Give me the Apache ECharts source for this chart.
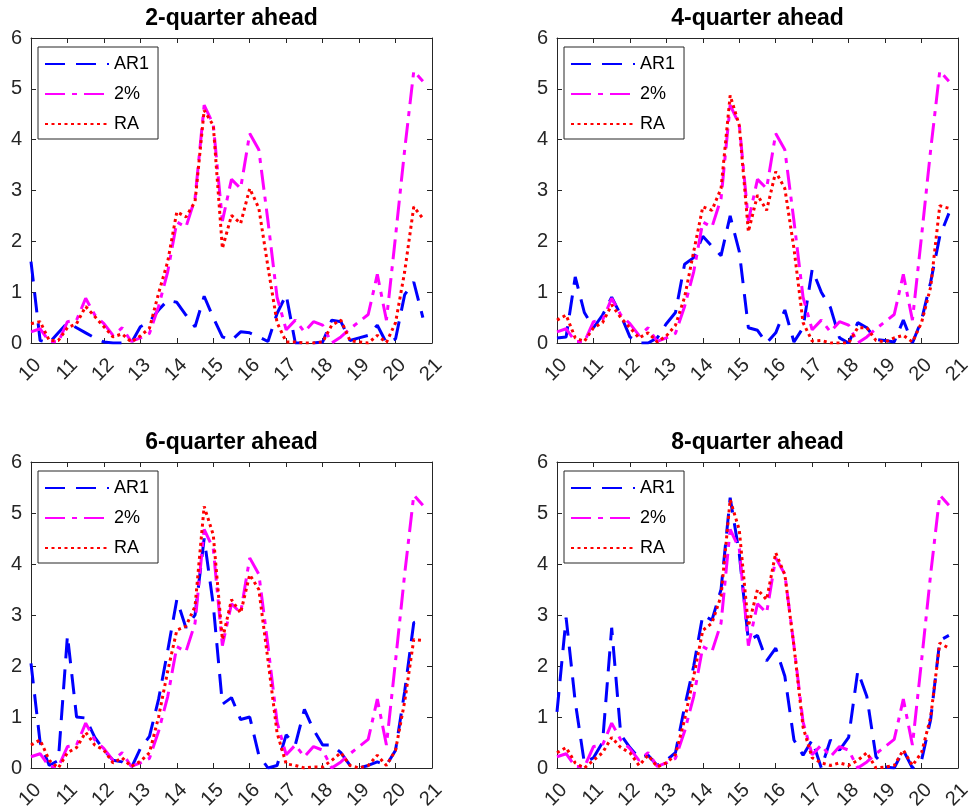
<!DOCTYPE html>
<html>
<head>
<meta charset="utf-8">
<title>Forecast panels</title>
<script src="https://cdn.jsdelivr.net/npm/echarts@6/dist/echarts.min.js"></script>
<style>
  html, body { margin: 0; padding: 0; background: #fff; }
  #chart { width: 969px; height: 809px; }
</style>
</head>
<body>
<div id="chart"></div>
<script>
// quarterly dates, 2010Q1 .. 2020Q4 shown as 10 .. 20.75
const quarters = [10, 10.25, 10.5, 10.75, 11, 11.25, 11.5, 11.75, 12, 12.25, 12.5, 12.75,
  13, 13.25, 13.5, 13.75, 14, 14.25, 14.5, 14.75, 15, 15.25, 15.5, 15.75,
  16, 16.25, 16.5, 16.75, 17, 17.25, 17.5, 17.75, 18, 18.25, 18.5, 18.75,
  19, 19.25, 19.5, 19.75, 20, 20.25, 20.5, 20.75];

const xTicks = [10, 11, 12, 13, 14, 15, 16, 17, 18, 19, 20, 21];
const yTicks = [0, 1, 2, 3, 4, 5, 6];
const seriesNames = ['AR1', '2%', 'RA'];
const titles = ['2-quarter ahead', '4-quarter ahead', '6-quarter ahead', '8-quarter ahead'];

// the 2% line is the same in every panel
const twoPct = [0.22, 0.28, 0.03, 0.02, 0.42, 0.45, 0.88, 0.55, 0.38, 0.15, 0.3, 0.03,
  0.1, 0.19, 0.72, 1.4, 2.38, 2.28, 2.84, 4.68, 4.3, 2.4, 3.22, 3.04,
  4.12, 3.8, 2.4, 0.9, 0.26, 0.45, 0.22, 0.42, 0.35, 0.0, 0.12, 0.28,
  0.42, 0.56, 1.35, 0.45, 2.1, 3.8, 5.35, 5.15];

const ar1H2 = [1.6, 0.05, 0.0, 0.2, 0.4, 0.3, 0.2, 0.1, 0.02, 0.0, 0.0, 0.0,
  0.32, 0.42, 0.65, 0.84, 0.8, 0.55, 0.32, 0.92, 0.5, 0.12, 0.05, 0.22,
  0.2, 0.12, 0.03, 0.58, 0.95, 0.0, 0.0, 0.0, 0.02, 0.45, 0.42, 0.05,
  0.1, 0.15, 0.35, 0.0, 0.08, 0.95, 1.2, 0.5];
const raH2 = [0.38, 0.42, 0.05, 0.05, 0.3, 0.38, 0.72, 0.52, 0.32, 0.12, 0.18, 0.02,
  0.14, 0.29, 0.98, 1.6, 2.58, 2.48, 2.78, 4.58, 4.28, 1.86, 2.51, 2.35,
  3.04, 2.65, 1.5, 0.4, 0.02, 0.02, 0.0, 0.0, 0.02, 0.35, 0.45, 0.05,
  0.02, 0.0, 0.15, 0.01, 0.4, 1.4, 2.68, 2.45];

const ar1H4 = [0.1, 0.12, 1.3, 0.6, 0.3, 0.55, 0.9, 0.55, 0.12, 0.0, 0.0, 0.1,
  0.38, 0.6, 1.55, 1.68, 2.1, 1.9, 1.72, 2.5, 1.8, 0.3, 0.25, 0.0,
  0.2, 0.65, 0.02, 0.3, 1.45, 1.0, 0.7, 0.1, 0.0, 0.4, 0.3, 0.07,
  0.05, 0.02, 0.45, 0.0, 0.45, 1.2, 2.1, 2.55];
const raH4 = [0.45, 0.55, 0.1, 0.03, 0.3, 0.4, 0.75, 0.5, 0.3, 0.1, 0.2, 0.02,
  0.14, 0.35, 0.9, 1.8, 2.68, 2.61, 3.04, 4.87, 4.28, 2.19, 2.91, 2.61,
  3.37, 3.04, 1.86, 0.4, 0.04, 0.05, 0.0, 0.0, 0.0, 0.3, 0.3, 0.05,
  0.02, 0.1, 0.15, 0.02, 0.4, 1.1, 2.7, 2.65];

const ar1H6 = [2.05, 0.5, 0.05, 0.15, 2.6, 1.0, 0.98, 0.6, 0.35, 0.15, 0.12, 0.0,
  0.38, 0.62, 1.35, 2.3, 3.3, 2.75, 3.0, 4.5, 3.2, 1.25, 1.38, 0.95,
  1.0, 0.25, 0.0, 0.05, 0.65, 0.45, 1.15, 0.75, 0.45, 0.45, 0.3, 0.05,
  0.0, 0.05, 0.12, 0.05, 0.35, 1.5, 2.85, 2.9];
const raH6 = [0.45, 0.55, 0.15, 0.0, 0.3, 0.4, 0.7, 0.45, 0.35, 0.1, 0.2, 0.03,
  0.13, 0.3, 1.0, 1.9, 2.7, 2.78, 3.17, 5.13, 4.57, 2.52, 3.3, 3.04,
  3.79, 3.5, 2.12, 0.69, 0.08, 0.05, 0.0, 0.02, 0.02, 0.15, 0.3, 0.05,
  0.0, 0.05, 0.25, 0.05, 0.35, 1.3, 2.52, 2.5];

const ar1H8 = [1.1, 2.95, 1.3, 0.1, 0.2, 0.5, 2.75, 0.65, 0.4, 0.2, 0.25, 0.05,
  0.15, 0.3, 1.2, 2.0, 3.0, 2.9, 3.5, 5.3, 4.2, 2.5, 2.6, 2.1,
  2.35, 1.8, 0.55, 0.25, 0.55, 0.0, 0.55, 0.35, 0.6, 1.9, 1.4, 0.22,
  0.02, 0.0, 0.35, 0.0, 0.15, 0.95, 2.5, 2.6];
const raH8 = [0.3, 0.4, 0.1, 0.0, 0.15, 0.3, 0.6, 0.4, 0.3, 0.05, 0.25, 0.02,
  0.1, 0.26, 0.95, 1.8, 2.7, 2.84, 3.37, 5.26, 4.67, 2.78, 3.5, 3.3,
  4.22, 3.79, 2.39, 0.8, 0.2, 0.1, 0.05, 0.1, 0.05, 0.15, 0.3, 0.0,
  0.02, 0.05, 0.35, 0.05, 0.3, 1.0, 2.45, 2.35];

const panelData = [
  [ar1H2, twoPct, raH2],
  [ar1H4, twoPct, raH4],
  [ar1H6, twoPct, raH6],
  [ar1H8, twoPct, raH8]
];

// layout of the four axes boxes (pixels)
const boxes = [
  { left: 31, top: 38, width: 401, height: 305 },
  { left: 557, top: 38, width: 401, height: 305 },
  { left: 31, top: 462, width: 401, height: 306 },
  { left: 557, top: 462, width: 401, height: 306 }
];

const FONT = '"Liberation Sans", Arial, Helvetica, sans-serif';
const AXIS_COLOR = '#262626';

const lineStyles = [
  { color: '#0000ff', width: 3, type: [20, 11] },
  { color: '#ff00ff', width: 3, type: [20, 7, 5, 7] },
  { color: '#ff0000', width: 3, type: [3, 3.5] }
];

function pairs(vals) {
  return quarters.map(function (q, i) { return [q, vals[i]]; });
}

var chartDom = document.getElementById('chart');
var myChart = echarts.init(chartDom, null, { renderer: 'canvas' });

var grid = [], xAxis = [], yAxis = [], series = [], title = [], legend = [];

boxes.forEach(function (b, k) {
  grid.push({ left: b.left, top: b.top, width: b.width, height: b.height,
    show: false, containLabel: false, outerBoundsMode: 'none' });

  title.push({
    text: titles[k],
    left: b.left + b.width / 2,
    top: b.top - 31,
    textAlign: 'center',
    padding: 0,
    textStyle: { fontFamily: FONT, fontSize: 23, fontWeight: 'bold', color: '#000' }
  });

  var tickCommon = { show: true, inside: true, length: 5, lineStyle: { color: AXIS_COLOR, width: 1 } };
  var lineCommon = { show: true, onZero: false, lineStyle: { color: AXIS_COLOR, width: 1 } };

  // bottom + top x axes
  xAxis.push({
    gridIndex: k, type: 'value', position: 'bottom',
    min: xTicks[0], max: xTicks[xTicks.length - 1], interval: 1,
    axisLine: lineCommon, axisTick: tickCommon, splitLine: { show: false },
    axisLabel: {
      rotate: 45, margin: 12, align: 'right', verticalAlign: 'top',
      fontFamily: FONT, fontSize: 20, color: AXIS_COLOR,
      showMinLabel: true, showMaxLabel: true
    }
  });
  xAxis.push({
    gridIndex: k, type: 'value', position: 'top',
    min: xTicks[0], max: xTicks[xTicks.length - 1], interval: 1,
    axisLine: lineCommon, axisTick: tickCommon, splitLine: { show: false },
    axisLabel: { show: false }
  });

  // left + right y axes
  yAxis.push({
    gridIndex: k, type: 'value', position: 'left',
    min: yTicks[0], max: yTicks[yTicks.length - 1], interval: 1,
    axisLine: lineCommon, axisTick: tickCommon, splitLine: { show: false },
    axisLabel: { margin: 9, fontFamily: FONT, fontSize: 20, color: AXIS_COLOR }
  });
  yAxis.push({
    gridIndex: k, type: 'value', position: 'right',
    min: yTicks[0], max: yTicks[yTicks.length - 1], interval: 1,
    axisLine: lineCommon, axisTick: tickCommon, splitLine: { show: false },
    axisLabel: { show: false }
  });

  panelData[k].forEach(function (vals, s) {
    series.push({
      name: seriesNames[s],
      type: 'line',
      xAxisIndex: 2 * k,
      yAxisIndex: 2 * k,
      data: pairs(vals),
      symbol: 'none',
      showSymbol: false,
      animation: false,
      silent: true,
      lineStyle: lineStyles[s],
      itemStyle: { color: lineStyles[s].color },
      z: 2 + s
    });
  });

  legend.push({
    data: seriesNames,
    orient: 'vertical',
    left: b.left + 7,
    top: b.top + 9,
    padding: [8, 9, 6, 6],
    itemWidth: 64,
    itemHeight: 14,
    itemGap: 12,
    selectedMode: false,
    backgroundColor: '#fff',
    borderColor: AXIS_COLOR,
    borderWidth: 1,
    borderRadius: 0,
    itemStyle: { color: 'rgba(0,0,0,0)', borderWidth: 0 },
    textStyle: { fontFamily: FONT, fontSize: 18, color: '#000' }
  });
});

var option = {
  backgroundColor: '#fff',
  animation: false,
  title: title,
  legend: legend,
  grid: grid,
  xAxis: xAxis,
  yAxis: yAxis,
  series: series
};

option && myChart.setOption(option);
</script>
</body>
</html>
